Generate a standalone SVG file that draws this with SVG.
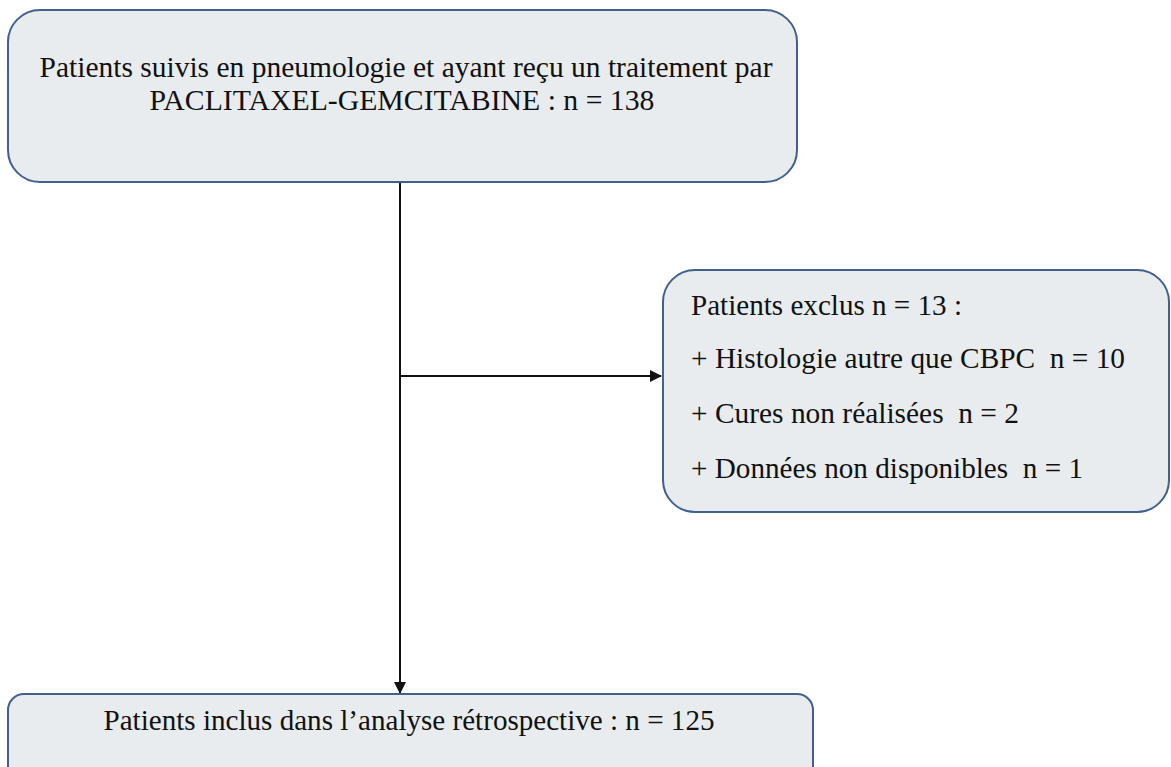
<svg xmlns="http://www.w3.org/2000/svg" width="1171" height="767" viewBox="0 0 1171 767">
<style>
.box{fill:#e8ecee;stroke:#41608c;stroke-width:2}
.t{font-family:"Liberation Serif","Times New Roman",serif;font-size:29px;fill:#111;white-space:pre}
.c{text-anchor:middle}
.ln{stroke:#111;stroke-width:2;fill:none}
</style>
<defs>
<marker id="ah" markerWidth="12" markerHeight="12" refX="11" refY="6" orient="auto" markerUnits="userSpaceOnUse" viewBox="0 0 12 12">
<path d="M0,0 L12,6 L0,12 z" fill="#111"/>
</marker>
</defs>
<rect width="1171" height="767" fill="#fff"/>
<g id="connectors">
<line class="ln" x1="400" y1="182" x2="400" y2="693" marker-end="url(#ah)"/>
<line class="ln" x1="400" y1="376" x2="661" y2="376" marker-end="url(#ah)"/>
</g>
<g id="node-top">
<rect class="box" x="8" y="10" width="789" height="172" rx="32"/>
<text class="t c" x="406" y="77" textLength="733" lengthAdjust="spacingAndGlyphs">Patients suivis en pneumologie et ayant reçu un traitement par</text>
<text class="t c" x="402" y="110" textLength="505" lengthAdjust="spacingAndGlyphs">PACLITAXEL-GEMCITABINE : n = 138</text>
</g>
<g id="node-excluded">
<rect class="box" x="663" y="270" width="506" height="242" rx="32"/>
<text class="t" x="691" y="315" textLength="271" lengthAdjust="spacingAndGlyphs">Patients exclus n = 13 :</text>
<text class="t" x="691" y="368" textLength="434" lengthAdjust="spacingAndGlyphs">+ Histologie autre que CBPC  n = 10</text>
<text class="t" x="691" y="423" textLength="328" lengthAdjust="spacingAndGlyphs">+ Cures non réalisées  n = 2</text>
<text class="t" x="691" y="478" textLength="392" lengthAdjust="spacingAndGlyphs">+ Données non disponibles  n = 1</text>
</g>
<g id="node-bottom">
<rect class="box" x="8" y="694" width="805" height="100" rx="16"/>
<text class="t c" x="409" y="730" textLength="611" lengthAdjust="spacingAndGlyphs">Patients inclus dans l’analyse rétrospective : n = 125</text>
</g>
</svg>
